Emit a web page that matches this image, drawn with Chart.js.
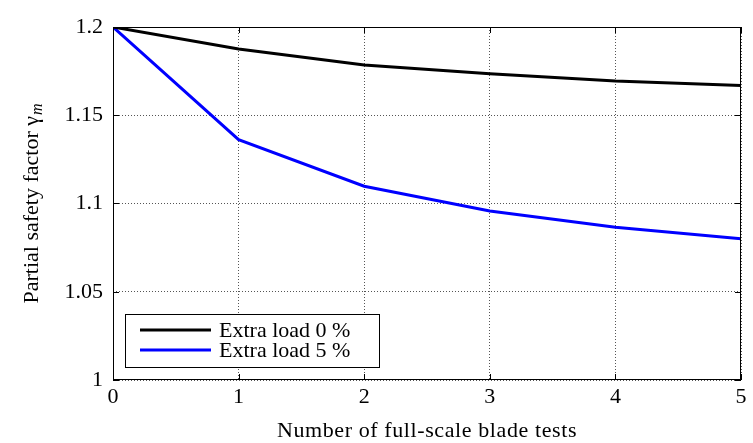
<!DOCTYPE html>
<html>
<head>
<meta charset="utf-8">
<script src="https://cdn.jsdelivr.net/npm/chart.js@4/dist/chart.umd.min.js"></script>
<style>
  html, body { margin: 0; padding: 0; background: #fff; }
  #wrap { width: 753px; height: 443px; }
</style>
</head>
<body>
<div id="wrap"><canvas id="chart" width="753" height="443"></canvas></div>
<script>
// values
const tests = [0, 1, 2, 3, 4, 5];
const load0 = [1.2, 1.1875, 1.1785, 1.1735, 1.1694, 1.1669];
const load5 = [1.2, 1.1362, 1.1098, 1.0958, 1.0865, 1.080];
const seriesLabels = ['Extra load 0 %', 'Extra load 5 %'];
const xTicks = [0, 1, 2, 3, 4, 5];
const yTicks = [1, 1.05, 1.1, 1.15, 1.2];

const FONT = 'Liberation Serif';

// box, axis titles and legend, drawn the matlab way
const matlabLook = {
  id: 'matlabLook',
  afterDraw(chart) {
    const ctx = chart.ctx;
    const a = chart.chartArea;
    ctx.save();
    ctx.strokeStyle = '#000';
    ctx.lineWidth = 1;
    ctx.strokeRect(a.left + 0.5, a.top + 0.5, a.right - a.left - 1, a.bottom - a.top - 1);

    // small inside ticks
    const xs = chart.scales.x, ys = chart.scales.y;
    ctx.beginPath();
    xTicks.forEach(v => {
      const px = Math.round(xs.getPixelForValue(v)) + 0.5;
      ctx.moveTo(px, a.bottom); ctx.lineTo(px, a.bottom - 6);
      ctx.moveTo(px, a.top); ctx.lineTo(px, a.top + 6);
    });
    yTicks.forEach(v => {
      const py = Math.round(ys.getPixelForValue(v)) + 0.5;
      ctx.moveTo(a.left, py); ctx.lineTo(a.left + 6, py);
      ctx.moveTo(a.right, py); ctx.lineTo(a.right - 6, py);
    });
    ctx.stroke();

    // x title
    ctx.fillStyle = '#000';
    ctx.font = '22px "' + FONT + '"';
    ctx.letterSpacing = '0.6px';
    ctx.textAlign = 'center';
    ctx.textBaseline = 'middle';
    ctx.fillText('Number of full-scale blade tests', (a.left + a.right) / 2, 431);
    ctx.letterSpacing = '0px';

    // y title with subscript m
    ctx.save();
    ctx.translate(32, 204);
    ctx.rotate(-Math.PI / 2);
    const main = 'Partial safety factor \u03b3';
    ctx.font = '22px "' + FONT + '"';
    const w1 = ctx.measureText(main).width;
    ctx.font = 'italic 16px "' + FONT + '"';
    const w2 = ctx.measureText('m').width;
    const x0 = -(w1 + w2) / 2;
    ctx.textAlign = 'left';
    ctx.font = '22px "' + FONT + '"';
    ctx.fillText(main, x0, 0);
    ctx.font = 'italic 16px "' + FONT + '"';
    ctx.fillText('m', x0 + w1 + 1, 6);
    ctx.restore();

    // legend box
    const lx = 125, ly = 314, lw = 254, lh = 53;
    ctx.fillStyle = '#fff';
    ctx.fillRect(lx, ly, lw, lh);
    ctx.strokeStyle = '#000';
    ctx.lineWidth = 1;
    ctx.strokeRect(lx + 0.5, ly + 0.5, lw, lh);
    chart.data.datasets.forEach((ds, i) => {
      const cy = ly + 16 + i * 20;
      ctx.strokeStyle = ds.borderColor;
      ctx.lineWidth = ds.borderWidth;
      ctx.beginPath();
      ctx.moveTo(140, cy); ctx.lineTo(211, cy);
      ctx.stroke();
      ctx.fillStyle = '#000';
      ctx.font = '22px "' + FONT + '"';
      ctx.textAlign = 'left';
      ctx.textBaseline = 'middle';
      ctx.fillText(ds.label, 219, cy + 1);
    });
    ctx.restore();
  }
};

new Chart(document.getElementById('chart'), {
  type: 'line',
  data: {
    datasets: [
      {
        label: seriesLabels[0],
        data: tests.map((x, i) => ({ x: x, y: load0[i] })),
        borderColor: '#000000',
        borderWidth: 3,
        pointRadius: 0,
        tension: 0,
        fill: false
      },
      {
        label: seriesLabels[1],
        data: tests.map((x, i) => ({ x: x, y: load5[i] })),
        borderColor: '#0000ff',
        borderWidth: 3,
        pointRadius: 0,
        tension: 0,
        fill: false
      }
    ]
  },
  options: {
    responsive: false,
    animation: false,
    layout: { padding: { top: 27, right: 12, left: 0, bottom: 0 } },
    plugins: {
      legend: { display: false },
      tooltip: { enabled: false }
    },
    scales: {
      x: {
        type: 'linear',
        min: 0,
        max: 5,
        afterBuildTicks: s => { s.ticks = xTicks.map(v => ({ value: v })); },
        afterFit: s => { s.height = 63; },
        border: { display: false, dash: [1, 2] },
        grid: {
          color: '#555',
          lineWidth: 1,
          drawTicks: false
        },
        ticks: {
          color: '#000',
          padding: 4,
          maxRotation: 0,
          font: { family: FONT, size: 22 },
          callback: v => String(v)
        }
      },
      y: {
        min: 1,
        max: 1.2,
        afterBuildTicks: s => { s.ticks = yTicks.map(v => ({ value: v })); },
        afterFit: s => { s.width = 113; },
        border: { display: false, dash: [1, 2] },
        grid: {
          color: '#555',
          lineWidth: 1,
          drawTicks: false
        },
        ticks: {
          color: '#000',
          padding: 10,
          font: { family: FONT, size: 22 },
          callback: v => String(+v.toFixed(2))
        }
      }
    }
  },
  plugins: [matlabLook]
});
</script>
</body>
</html>
